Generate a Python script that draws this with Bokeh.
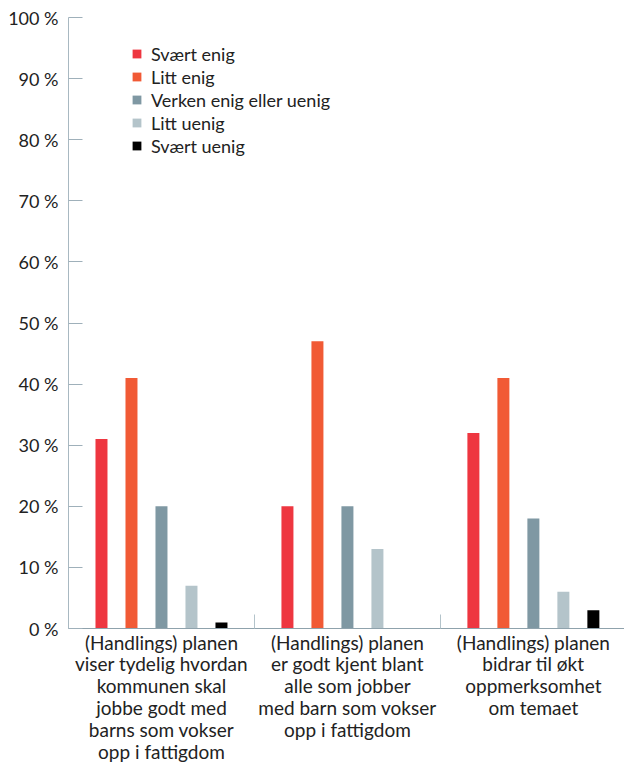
from bokeh.plotting import figure
from bokeh.models import ColumnDataSource, FixedTicker, Legend, LegendItem, Range1d
from bokeh.transform import dodge
from bokeh.embed import file_html
from bokeh.resources import INLINE

categories = [
    "(Handlings) planen\nviser tydelig hvordan\nkommunen skal\njobbe godt med\nbarns som vokser\nopp i fattigdom",
    "(Handlings) planen\ner godt kjent blant\nalle som jobber\nmed barn som vokser\nopp i fattigdom",
    "(Handlings) planen\nbidrar til økt\noppmerksomhet\nom temaet",
]
series_names = ["Svært enig", "Litt enig", "Verken enig eller uenig", "Litt uenig", "Svært uenig"]
svaert_enig = [31, 20, 32]
litt_enig = [41, 47, 41]
verken = [20, 20, 18]
litt_uenig = [7, 13, 6]
svaert_uenig = [1, 0, 3]
y_ticks = [0, 10, 20, 30, 40, 50, 60, 70, 80, 90, 100]
y_tick_labels = {t: f"{t} %" for t in y_ticks}

colors = ["#EE3640", "#F15A35", "#7F98A3", "#B4C4CA", "#000000"]
series = [svaert_enig, litt_enig, verken, litt_uenig, svaert_uenig]

FONT = "Lato"
TXT = "#222222"

centers = [i + 0.5 for i in range(len(categories))]
data = {"x": centers}
keys = []
for i, vals in enumerate(series):
    k = f"s{i}"
    keys.append(k)
    data[k] = vals
source = ColumnDataSource(data)

p = figure(width=624, height=765, x_range=Range1d(0, 2.99), y_range=Range1d(0, 100),
           output_backend="svg", toolbar_location=None,
           min_border_left=68, min_border_top=17, min_border_right=0, min_border_bottom=136)
p.outline_line_color = None
p.xgrid.visible = False
p.ygrid.visible = False

step = 0.1613
offsets = [-2 * step, -step, 0.0, step, 2 * step]
items = []
for k, off, col, name in zip(keys, offsets, colors, series_names):
    r = p.vbar(x=dodge("x", off), top=k, width=0.0645, bottom=0, source=source,
               fill_color=col, line_color=None)
    items.append(LegendItem(label=name, renderers=[r]))

legend = Legend(items=items, location=(63, 471), glyph_width=11, glyph_height=11,
                label_standoff=9, spacing=0, padding=0, margin=0, label_height=23,
                border_line_color=None, background_fill_alpha=0,
                label_text_font=FONT, label_text_font_size="18px", label_text_color=TXT)
p.add_layout(legend, "center")

# y axis
ya = p.yaxis[0]
ya.ticker = FixedTicker(ticks=y_ticks)
ya.major_label_overrides = y_tick_labels
ya.major_tick_in = 14
ya.major_tick_out = 0
ya.minor_tick_line_color = None
ya.major_tick_line_color = "#9fb0ba"
ya.axis_line_color = "#a8b8c1"
ya.major_label_standoff = 10
ya.major_label_text_font = FONT
ya.major_label_text_font_size = "18px"
ya.major_label_text_color = TXT

# x axis
xa = p.xaxis[0]
xa.ticker = FixedTicker(ticks=centers, minor_ticks=[0, 1, 2, 3])
xa.major_label_overrides = {c: lab for c, lab in zip(centers, categories)}
xa.major_tick_line_color = None
xa.major_tick_in = 0
xa.major_tick_out = 0
xa.minor_tick_in = 14
xa.minor_tick_out = 0
xa.minor_tick_line_color = "#b3c3ca"
xa.axis_line_color = "#8fa2ac"
xa.major_label_standoff = 2
xa.major_label_text_font = FONT
xa.major_label_text_font_size = "19px"
xa.major_label_text_color = TXT
xa.major_label_text_line_height = 0.95

open("out.html", "w").write(file_html(p, INLINE))
